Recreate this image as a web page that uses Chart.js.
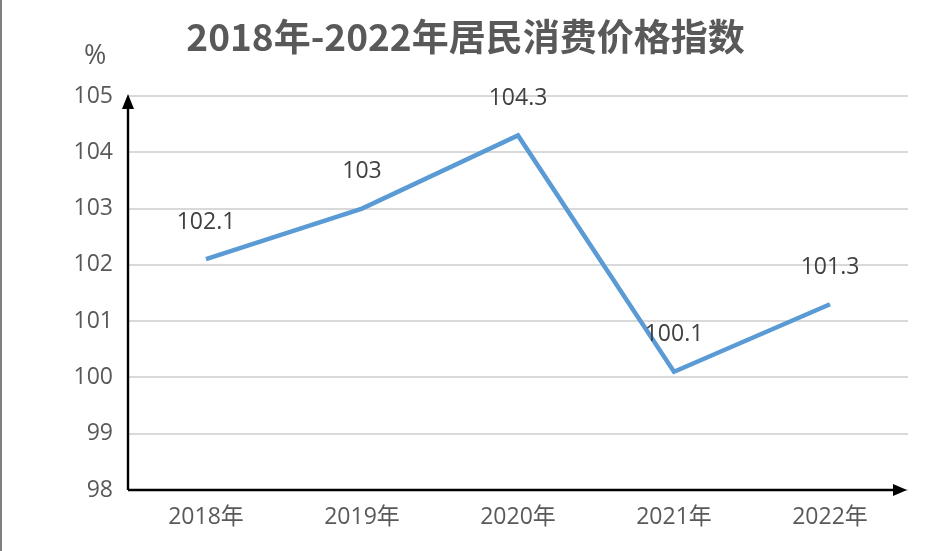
<!DOCTYPE html>
<html><head><meta charset="utf-8">
<script src="https://cdn.jsdelivr.net/npm/chart.js@4/dist/chart.umd.min.js"></script>
<style>
html,body{margin:0;padding:0;background:#fff;}
#wrap{position:relative;width:935px;height:551px;overflow:hidden;}
#wrap:before{content:"";position:absolute;left:0;top:0;width:2px;height:551px;background:#7f7f7f;}
#title{position:absolute;left:0;width:935px;top:9px;text-align:center;font-family:"Noto Sans CJK SC","Noto Sans",sans-serif;font-weight:bold;font-size:37px;line-height:52px;color:#595959;padding-right:4px;box-sizing:border-box;}
#unit{position:absolute;left:84px;top:37px;font-family:"Open Sans","Noto Sans",sans-serif;font-size:27px;line-height:34px;color:#595959;}
canvas{position:absolute;left:0;top:0;}
</style></head>
<body>
<div id="wrap">
<canvas id="c" width="935" height="551"></canvas>
<div id="title">2018年-2022年居民消费价格指数</div>
<div id="unit">%</div>
</div>
<script>
const categories = ["2018年","2019年","2020年","2021年","2022年"];
const cpiValues = [102.1, 103, 104.3, 100.1, 101.3];
const valueLabels = ["102.1","103","104.3","100.1","101.3"];
const yTicks = [98,99,100,101,102,103,104,105];

const FONT = '"Open Sans","Noto Sans CJK SC","Noto Sans",sans-serif';

const axesPlugin = {
  id:'axesArrows',
  afterDatasetsDraw(chart){
    const ctx = chart.ctx, a = chart.chartArea;
    const x0 = a.left, y0 = a.bottom;
    ctx.save();
    ctx.strokeStyle = '#000'; ctx.fillStyle = '#000'; ctx.lineWidth = 2.4;
    ctx.beginPath(); ctx.moveTo(x0, y0); ctx.lineTo(x0, a.top + 10); ctx.stroke();
    ctx.beginPath(); ctx.moveTo(x0, a.top - 2); ctx.lineTo(x0 - 6, a.top + 13); ctx.lineTo(x0 + 6, a.top + 13); ctx.closePath(); ctx.fill();
    ctx.beginPath(); ctx.moveTo(x0, y0); ctx.lineTo(a.right - 12, y0); ctx.stroke();
    ctx.beginPath(); ctx.moveTo(a.right - 1, y0); ctx.lineTo(a.right - 15, y0 - 6); ctx.lineTo(a.right - 15, y0 + 6); ctx.closePath(); ctx.fill();
    // data labels
    const meta = chart.getDatasetMeta(0);
    ctx.font = '23px ' + FONT; ctx.fillStyle = '#404040';
    ctx.textAlign = 'center'; ctx.textBaseline = 'middle';
    meta.data.forEach((p,i)=>{ ctx.fillText(valueLabels[i], p.x, p.y - 37); });
    ctx.restore();
  }
};

new Chart(document.getElementById('c'), {
  type:'line',
  data:{ labels:categories, datasets:[{ data:cpiValues, borderColor:'#5b9bd5', borderWidth:4.5, pointRadius:0, tension:0, fill:false }]},
  options:{
    responsive:false, animation:false,
    layout:{ padding:{ top:96, right:27, bottom:0, left:0 } },
    plugins:{ legend:{display:false}, tooltip:{enabled:false}, title:{display:false} },
    scales:{
      x:{ offset:true, grid:{display:false, drawTicks:false}, border:{display:false},
          ticks:{ font:{size:23, family:FONT}, color:'#595959', padding:14 },
          afterFit(s){ s.height = 61; } },
      y:{ min:98, max:105, grid:{ color:'#d9d9d9', lineWidth:2, drawTicks:false }, border:{display:false},
          afterBuildTicks(s){ s.ticks = yTicks.map(v=>({value:v})); },
          ticks:{ font:{size:23, family:FONT}, color:'#595959', padding:15 },
          afterFit(s){ s.width = 128; } }
    }
  },
  plugins:[axesPlugin]
});
</script>
</body></html>
